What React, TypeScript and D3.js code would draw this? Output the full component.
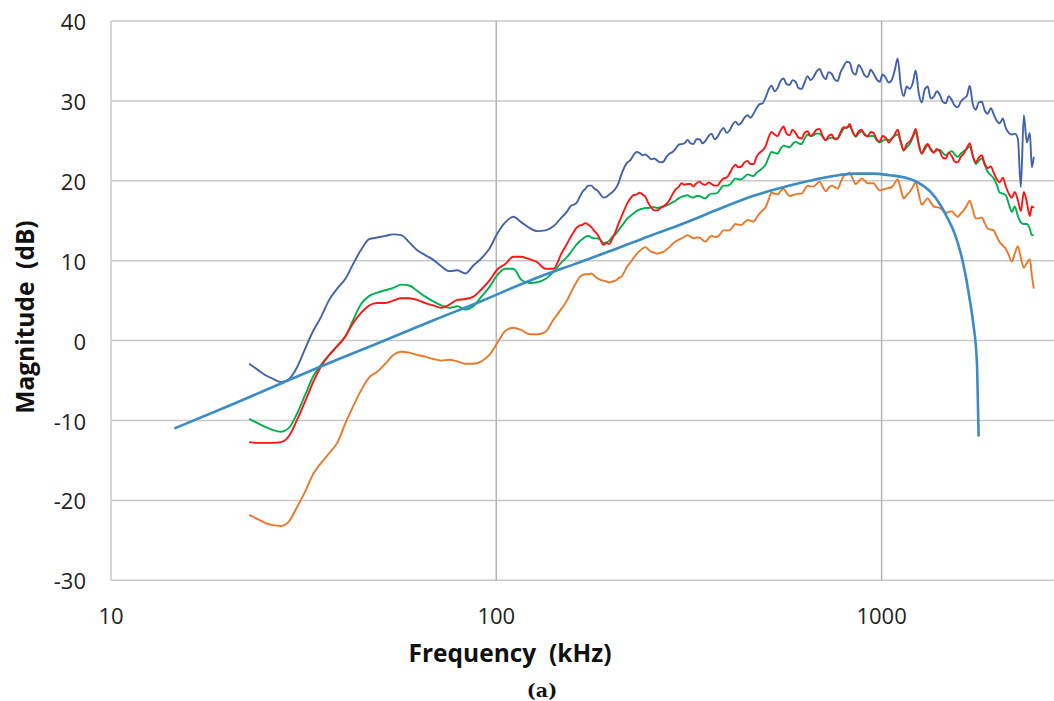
import React from "react";
import * as d3 from "d3";

// Frequency grid (kHz) shared by the measured series
const freqLow: number[] = [22.83, 23.94, 25.12, 26.35, 27.64, 29.0, 30.42, 31.91, 33.47, 35.12, 36.84, 38.64, 40.54, 42.52, 44.61, 46.8, 49.09, 51.5, 54.02, 56.67, 59.44, 62.36, 65.42, 68.62, 71.99, 75.52, 79.22, 83.11, 87.18, 91.45, 95.94, 100.6, 105.5, 110.7, 116.2, 121.9, 127.8, 134.1, 140.7, 147.6];
const freqHigh: number[] = [152.9, 158.5, 164.3, 170.3, 176.5, 183.0, 189.7, 196.6, 203.8, 211.2, 218.9, 226.9, 235.2, 243.8, 252.7, 262.0, 271.5, 281.5, 291.8, 302.4, 313.5, 324.9, 336.8, 349.1, 361.9, 375.1, 388.8, 403.0, 417.7, 433.0, 448.8, 465.2, 482.2, 499.8, 518.1, 537.0, 556.6, 577.0, 598.1, 619.9, 642.6, 666.1, 690.4, 715.6, 741.8, 768.9, 797.0, 826.1, 856.3, 887.6, 920.1, 953.7, 988.5, 1024.7, 1062.1, 1100.9, 1141.2, 1182.9, 1226.1, 1270.9, 1317.4, 1365.5, 1415.4, 1467.1, 1520.8, 1576.4, 1634.0, 1693.7, 1755.6, 1819.8, 1886.3, 1955.3, 2026.7, 2100.8, 2177.6, 2257.2, 2339.7, 2425.2, 2483.9];
// intermediate samples between consecutive freqHigh points
const freqMid: number[] = [155.7, 161.4, 167.3, 173.4, 179.7, 186.3, 193.1, 200.2, 207.5, 215.0, 222.9, 231.0, 239.5, 248.2, 257.3, 266.7, 276.4, 286.6, 297.1, 307.9, 319.2, 330.8, 342.9, 355.4, 368.5, 381.9, 395.8, 410.3, 425.3, 440.8, 456.9, 473.6, 490.9, 508.8, 527.5, 546.7, 566.7, 587.4, 608.9, 631.1, 654.2, 678.2, 702.9, 728.6, 755.2, 782.8, 811.4, 841.1, 871.8, 903.7, 936.8, 971.0, 1006.4, 1043.2, 1081.3, 1120.8, 1161.9, 1204.3, 1248.3, 1293.9, 1341.2, 1390.2, 1441.0, 1493.7, 1548.3, 1604.9, 1663.6, 1724.4, 1787.4, 1852.7, 1920.4, 1990.7, 2063.4, 2138.8, 2217.0, 2298.1, 2382.0, 2454.0];

// Dark blue series (dB)
const blueLow: number[] = [-2.9, -3.6, -4.3, -4.8, -5.2, -4.8, -3.3, -1.0, 1.2, 3.0, 5.1, 6.5, 7.7, 9.6, 11.4, 12.7, 12.9, 13.1, 13.3, 13.2, 12.3, 11.3, 10.7, 10.1, 9.3, 8.7, 8.8, 8.4, 9.4, 10.3, 11.5, 13.4, 14.8, 15.5, 14.8, 14.1, 13.7, 13.8, 14.3, 15.4];
const blueHigh: number[] = [16.2, 17.0, 17.9, 19.0, 19.4, 18.8, 17.9, 18.3, 19.0, 20.8,
  22.3, 23.2, 23.5, 23.3, 22.7, 22.5, 22.4, 23.4, 24.0, 24.6,
  25.1, 24.6, 25.2, 25.0, 25.9, 25.5, 26.6, 26.3, 27.4, 27.3,
  28.2, 28.4, 29.6, 30.4, 31.9, 31.6, 32.8, 32.0, 32.4, 31.5,
  33.1, 33.0, 34.0, 32.7, 33.4, 32.5, 34.3, 34.8, 33.3, 34.0,
  33.0, 33.4, 32.4, 32.9, 32.6, 35.3, 30.6, 31.5, 33.8, 29.8,
  31.8, 30.5, 30.8, 29.7, 30.1, 29.2, 30.3, 31.9, 28.9, 29.9,
  28.4, 28.3, 27.2, 26.6, 25.8, 25.3, 28.2, 26.0, 23.0];
const blueMid: number[] = [16.8, 17.2, 18.6, 19.4, 19.0, 18.3, 18.0, 18.6, 19.7, 21.7,
  22.6, 23.6, 23.2, 23.0, 22.8, 22.3, 23.0, 23.6, 24.5, 24.7,
  24.7, 25.2, 24.7, 25.6, 25.2, 26.2, 26.0, 27.0, 27.0, 27.9,
  27.9, 29.1, 29.7, 31.4, 31.2, 32.5, 32.1, 32.6, 31.6, 32.3,
  32.6, 33.7, 33.2, 33.6, 32.7, 33.6, 34.9, 33.6, 34.5, 33.2,
  33.9, 32.7, 33.3, 32.3, 33.8, 32.0, 31.8, 32.2, 31.0, 31.4,
  30.3, 31.2, 29.9, 30.6, 29.4, 29.9, 30.6, 29.6, 29.8, 28.8,
  29.1, 27.5, 27.8, 26.0, 25.9, 19.2, 24.8, 21.7];

// Red series (dB)
const redLow: number[] = [-12.7, -12.8, -12.8, -12.8, -12.7, -11.9, -9.9, -7.6, -5.2, -3.2, -1.8, -0.7, 0.5, 2.2, 3.5, 4.4, 4.7, 4.7, 5.0, 5.3, 5.3, 5.1, 4.7, 4.4, 4.1, 4.5, 5.1, 5.2, 5.5, 6.4, 7.5, 8.9, 9.6, 10.5, 10.5, 10.2, 9.8, 9.0, 9.0, 10.9];
const redHigh: number[] = [12.2, 13.5, 14.4, 14.7, 14.2, 13.3, 12.0, 12.1, 13.6, 15.5,
  17.2, 18.2, 18.5, 18.0, 16.6, 16.3, 16.8, 17.6, 18.9, 19.7,
  19.6, 19.3, 19.9, 19.5, 19.6, 19.4, 20.3, 20.9, 22.0, 21.8,
  22.5, 22.1, 23.5, 24.3, 26.1, 25.6, 26.8, 25.7, 26.0, 25.3,
  26.2, 25.9, 26.5, 25.1, 25.8, 25.3, 26.7, 27.1, 25.6, 26.4,
  25.6, 26.0, 24.9, 25.4, 25.2, 26.4, 23.8, 24.9, 26.5, 23.4,
  24.6, 23.5, 23.7, 22.8, 23.1, 22.3, 23.4, 24.7, 22.3, 23.2,
  21.6, 21.0, 19.8, 19.3, 17.9, 17.6, 18.6, 15.6, 16.6];
const redMid: number[] = [12.9, 14.1, 14.5, 14.5, 13.7, 12.6, 12.2, 12.8, 14.6, 16.4,
  17.8, 18.3, 18.3, 17.2, 16.3, 16.6, 17.1, 18.3, 19.2, 19.5,
  19.6, 19.7, 19.6, 19.8, 19.4, 19.9, 20.4, 21.6, 21.7, 22.3,
  22.1, 23.0, 23.8, 25.4, 25.8, 26.3, 25.9, 26.4, 25.4, 26.0,
  25.6, 26.4, 25.6, 25.6, 25.2, 26.1, 26.6, 26.1, 26.2, 25.7,
  26.1, 25.2, 25.6, 24.8, 25.8, 24.9, 24.6, 25.6, 24.5, 24.2,
  23.9, 24.0, 22.9, 23.5, 22.4, 23.0, 24.1, 23.1, 22.9, 22.1,
  21.8, 20.2, 20.4, 18.4, 18.6, 16.2, 17.3, 16.8];

// Green series (dB)
const greenLow: number[] = [-9.8, -10.3, -10.8, -11.2, -11.4, -10.9, -9.1, -6.8, -4.5, -3.0, -1.8, -0.7, 0.5, 2.6, 4.6, 5.6, 6.0, 6.3, 6.6, 7.0, 6.9, 6.2, 5.5, 4.9, 4.4, 4.1, 4.3, 3.9, 4.3, 5.5, 6.7, 8.2, 9.0, 9.0, 7.6, 7.2, 7.3, 7.7, 8.6, 9.8];
const greenHigh: number[] = [10.5, 11.5, 12.4, 13.0, 12.9, 12.8, 12.2, 12.5, 13.3, 14.3,
  15.3, 15.9, 16.4, 16.6, 16.7, 16.6, 16.8, 17.1, 17.5, 18.0,
  18.2, 17.9, 18.1, 17.8, 18.4, 18.5, 19.4, 19.5, 20.3, 20.2,
  20.8, 20.6, 21.3, 22.0, 23.6, 23.4, 24.4, 24.2, 24.9, 24.6,
  25.8, 25.7, 25.9, 25.1, 25.4, 25.3, 26.5, 26.8, 25.5, 26.2,
  25.5, 25.6, 24.8, 25.2, 25.3, 25.8, 23.8, 24.6, 26.1, 23.4,
  24.4, 23.6, 23.9, 23.2, 23.7, 23.0, 23.7, 24.3, 22.1, 22.8,
  21.1, 20.3, 18.5, 18.2, 16.1, 15.6, 14.6, 14.0, 13.2];
const greenMid: number[] = [11.0, 12.0, 12.7, 13.1, 12.8, 12.6, 12.3, 13.0, 13.8, 14.8,
  15.6, 16.2, 16.5, 16.6, 16.7, 16.7, 16.9, 17.3, 17.8, 18.1,
  18.0, 18.1, 17.9, 18.2, 18.4, 19.0, 19.4, 19.9, 20.2, 20.5,
  20.7, 21.0, 21.6, 22.9, 23.5, 24.0, 24.3, 24.6, 24.7, 25.3,
  25.6, 25.9, 25.5, 25.3, 25.3, 25.9, 26.7, 26.2, 25.9, 25.9,
  25.6, 25.1, 25.0, 25.1, 25.6, 24.9, 24.2, 25.4, 24.7, 23.9,
  24.0, 23.8, 23.5, 23.5, 23.3, 23.4, 24.0, 23.2, 22.5, 22.0,
  20.7, 19.5, 18.4, 17.1, 16.8, 14.8, 14.6, 13.2];

// Orange series (dB)
const orangeLow: number[] = [-21.8, -22.3, -22.8, -23.1, -23.2, -22.6, -20.8, -18.9, -16.7, -15.3, -14.1, -12.8, -10.4, -8.2, -6.2, -4.6, -3.9, -2.9, -1.8, -1.4, -1.5, -1.8, -2.0, -2.3, -2.5, -2.4, -2.6, -2.9, -2.9, -2.6, -1.8, -0.3, 1.2, 1.6, 1.3, 0.8, 0.8, 1.1, 2.6, 4.0];
const orangeHigh: number[] = [5.1, 6.6, 7.9, 8.3, 8.4, 7.8, 7.5, 7.3, 7.5, 8.0,
  9.3, 10.3, 11.2, 11.7, 11.1, 10.9, 11.1, 11.7, 12.4, 12.8,
  13.2, 12.8, 12.9, 12.4, 13.1, 13.0, 13.8, 13.8, 14.6, 14.5,
  15.1, 14.9, 15.9, 16.7, 18.5, 18.3, 19.0, 18.1, 18.3, 18.4,
  19.4, 19.3, 19.9, 18.7, 19.4, 19.0, 20.6, 21.0, 19.6, 20.3,
  19.7, 19.7, 18.8, 19.0, 19.2, 20.2, 17.8, 18.6, 19.8, 17.0,
  17.8, 16.8, 16.6, 16.0, 16.2, 15.5, 16.3, 17.5, 15.3, 15.4,
  14.0, 13.8, 12.3, 11.5, 9.9, 11.8, 9.1, 10.2, 6.5];
const orangeMid: number[] = [5.9, 7.3, 8.2, 8.3, 8.1, 7.6, 7.4, 7.4, 7.8, 8.6,
  9.8, 10.8, 11.5, 11.4, 11.0, 11.0, 11.4, 12.1, 12.6, 13.0,
  13.0, 12.9, 12.6, 12.8, 13.0, 13.4, 13.8, 14.2, 14.5, 14.8,
  15.0, 15.4, 16.3, 17.6, 18.4, 18.7, 18.5, 18.2, 18.4, 18.9,
  19.3, 19.6, 19.3, 19.1, 19.2, 19.8, 20.8, 20.3, 19.9, 20.0,
  19.7, 19.2, 18.9, 19.1, 19.7, 19.0, 18.2, 19.2, 18.4, 17.4,
  17.3, 16.7, 16.3, 16.1, 15.8, 15.9, 16.9, 16.4, 15.3, 14.7,
  13.9, 13.0, 11.9, 10.7, 10.9, 10.4, 9.7, 8.2];

// Model curve
const modelFreq: number[] = [14.6, 20.4, 27.8, 34.8, 50, 70, 91, 122, 160, 200, 250, 300, 380, 457, 547, 650, 750, 850, 950, 1050, 1150, 1241, 1340, 1420, 1484, 1550, 1603, 1650, 1683, 1710, 1733, 1754, 1770, 1786];
const modelDb: number[] = [-11, -8.1, -5.3, -3.3, -0.2, 2.7, 4.9, 7.5, 9.6, 11.3, 13.1, 14.5, 16.5, 18.0, 19.1, 20.0, 20.6, 20.9, 20.9, 20.7, 20.4, 19.8, 18.6, 17.0, 15.3, 13.3, 11.0, 8.3, 5.9, 3.9, 1.8, -0.3, -3.5, -12];

const yTicks: number[] = [-30, -20, -10, 0, 10, 20, 30, 40];
const xTicks: number[] = [10, 100, 1000];
const xLabel = "Frequency  (kHz)";
const yLabel = "Magnitude  (dB)";
const caption = "(a)";

function merge(low: number[], high: number[], mid: number[]): number[] {
  const out = [...low];
  high.forEach((v, i) => {
    out.push(v);
    if (i < mid.length) out.push(mid[i]);
  });
  return out;
}

export default function App() {
  const W = 1054, H = 701;
  const left = 111, right = 1054, top = 21, bottom = 580.3;
  const decade = 385.3;
  const xMax = Math.pow(10, 1 + (right - left) / decade);
  const x = d3.scaleLog().domain([10, xMax]).range([left, right]);
  const y = d3.scaleLinear().domain([-30, 40]).range([bottom, top]);

  const freq = merge(freqLow, freqHigh, freqMid);
  const series = [
    { name: "orange", color: "#e8792b", vals: merge(orangeLow, orangeHigh, orangeMid) },
    { name: "green", color: "#00b050", vals: merge(greenLow, greenHigh, greenMid) },
    { name: "red", color: "#ff1414", vals: merge(redLow, redHigh, redMid) },
    { name: "blue", color: "#4262aa", vals: merge(blueLow, blueHigh, blueMid) },
  ];

  const smooth = d3
    .line<[number, number]>()
    .x((d) => x(d[0]))
    .y((d) => y(d[1]))
    .curve(d3.curveMonotoneX);

  const font = "'Open Sans', Lato, sans-serif";

  return (
    <svg
      width={W}
      height={H}
      style={{ position: "absolute", left: 0, top: 0, display: "block", background: "#fff" }}
    >
      {yTicks.map((t) => (
        <line key={"gy" + t} x1={left} x2={right} y1={y(t)} y2={y(t)} stroke="#c8c8c8" strokeWidth={1.5} />
      ))}
      {xTicks.map((t) => (
        <line key={"gx" + t} x1={x(t)} x2={x(t)} y1={top} y2={bottom} stroke={t === 10 ? "#c8c8c8" : "#b4b4b4"} strokeWidth={1.5} />
      ))}
      {series.map((s) => (
        <path
          key={s.name}
          d={smooth(freq.map((f, i) => [f, s.vals[i]] as [number, number])) || ""}
          fill="none"
          stroke={s.color}
          strokeWidth={1.9}
          strokeLinejoin="round"
        />
      ))}
      <path
        d={smooth(modelFreq.map((f, i) => [f, modelDb[i]] as [number, number])) || ""}
        fill="none"
        stroke="#3a8cc4"
        strokeWidth={2.6}
      />
      {yTicks.map((t) => (
        <text key={"ty" + t} x={86} y={y(t)} textAnchor="end" dominantBaseline="central" fontFamily={font} fontSize={22} fill="#222">
          {t}
        </text>
      ))}
      {xTicks.map((t) => (
        <text key={"tx" + t} x={x(t)} y={615} textAnchor="middle" dominantBaseline="central" fontFamily={font} fontSize={22} fill="#222">
          {t}
        </text>
      ))}
      <text x={510} y={652} textAnchor="middle" dominantBaseline="central" fontFamily={font} fontWeight="bold" fontSize={24.5} fill="#111" style={{ whiteSpace: "pre" }}>
        {xLabel}
      </text>
      <text
        transform={`translate(24,317) rotate(-90)`}
        textAnchor="middle"
        dominantBaseline="central"
        fontFamily={font}
        fontWeight="bold"
        fontSize={24.5}
        fill="#111"
        style={{ whiteSpace: "pre" }}
      >
        {yLabel}
      </text>
      <text x={542} y={690} textAnchor="middle" dominantBaseline="central" fontFamily="'DejaVu Serif', serif" fontWeight="bold" fontSize={19} fill="#111">
        {caption}
      </text>
    </svg>
  );
}
